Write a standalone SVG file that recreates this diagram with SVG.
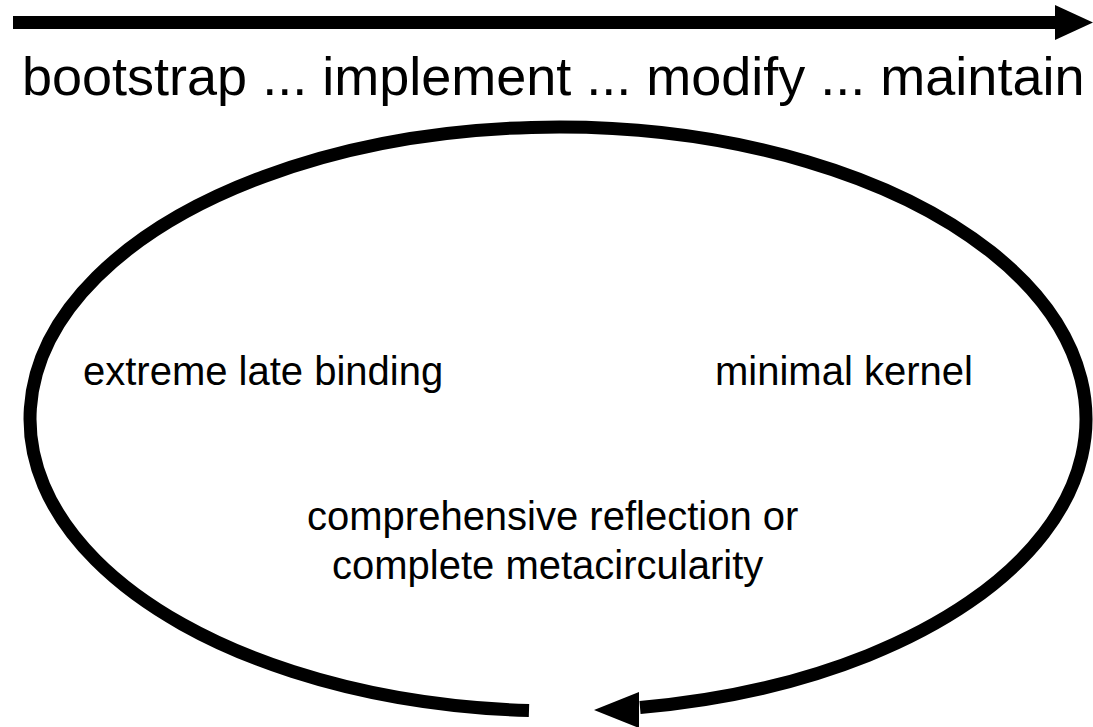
<svg xmlns="http://www.w3.org/2000/svg" width="1093" height="727" viewBox="0 0 1093 727">
  <style>
    .label { font-family: "Liberation Sans", Arial, sans-serif; fill: #000; }
    .big { font-size: 54px; }
    .mid { font-size: 40px; }
    .stroke { fill: none; stroke: #000; stroke-width: 13; }
    .head { fill: #000; }
  </style>
  <rect width="1093" height="727" fill="#fff"/>

  <!-- connectors: timeline arrow and the cycle loop -->
  <g id="connectors">
    <line class="stroke" x1="13" y1="22.5" x2="1056" y2="22.5"/>
    <polygon class="head" points="1055,5 1093,22.5 1055,40"/>
    <path class="stroke" d="M 529 710.6 A 528 292 0 1 1 640 707.5"/>
    <polygon class="head" points="594,710 639,692 639,728"/>
  </g>

  <g id="timeline">
    <text class="label big" x="22" y="95">bootstrap ... implement ... modify ... maintain</text>
  </g>

  <g id="late-binding">
    <text class="label mid" x="83" y="385">extreme late binding</text>
  </g>

  <g id="minimal-kernel">
    <text class="label mid" x="715" y="385">minimal kernel</text>
  </g>

  <g id="reflection">
    <text class="label mid" x="307" y="530">comprehensive reflection or</text>
    <text class="label mid" x="332" y="579">complete metacircularity</text>
  </g>
</svg>
